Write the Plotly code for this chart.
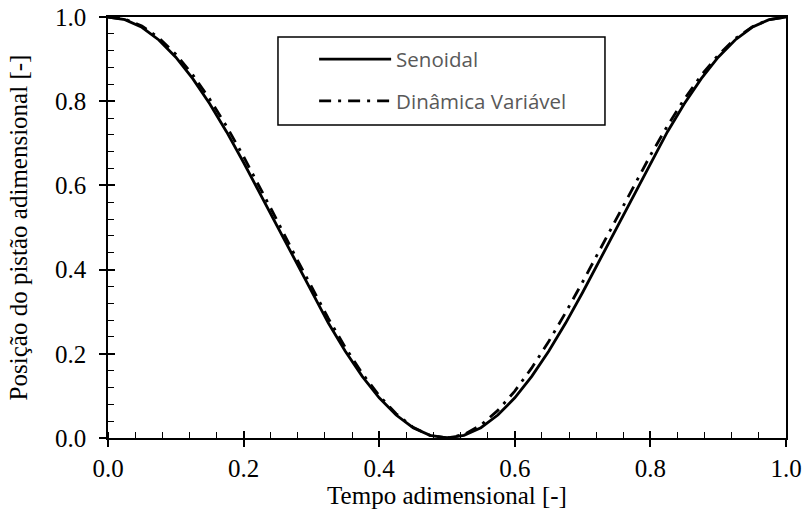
import plotly.graph_objects as go

tempo = [0.0, 0.025, 0.05, 0.075, 0.1, 0.125, 0.15, 0.175, 0.2, 0.225, 0.25,
         0.275, 0.3, 0.325, 0.35, 0.375, 0.4, 0.425, 0.45, 0.475, 0.5,
         0.525, 0.55, 0.575, 0.6, 0.625, 0.65, 0.675, 0.7, 0.725, 0.75,
         0.775, 0.8, 0.825, 0.85, 0.875, 0.9, 0.925, 0.95, 0.975, 1.0]

senoidal = [1.0, 0.9938, 0.9755, 0.9455, 0.9045, 0.8536, 0.7939, 0.7270, 0.6545, 0.5782, 0.5,
            0.4218, 0.3455, 0.2730, 0.2061, 0.1464, 0.0955, 0.0545, 0.0245, 0.0062, 0.0,
            0.0062, 0.0245, 0.0545, 0.0955, 0.1464, 0.2061, 0.2730, 0.3455, 0.4218, 0.5,
            0.5782, 0.6545, 0.7270, 0.7939, 0.8536, 0.9045, 0.9455, 0.9755, 0.9938, 1.0]

dinamica = [1.0, 0.9948, 0.9785, 0.9505, 0.9115, 0.8626, 0.8049, 0.7400, 0.6685, 0.5932, 0.5150,
            0.4358, 0.3585, 0.2840, 0.2151, 0.1535, 0.1005, 0.0575, 0.0255, 0.0062, 0.0,
            0.0082, 0.0305, 0.0655, 0.1115, 0.1665, 0.2291, 0.2980, 0.3705, 0.4458, 0.5220,
            0.5982, 0.6715, 0.7410, 0.8049, 0.8616, 0.9095, 0.9485, 0.9765, 0.9938, 1.0]

tick_vals = [0.0, 0.2, 0.4, 0.6, 0.8, 1.0]
tick_text = ["0.0", "0.2", "0.4", "0.6", "0.8", "1.0"]

serif = "Liberation Serif, Times New Roman, serif"

fig = go.Figure()
fig.add_trace(go.Scatter(x=tempo, y=senoidal, mode="lines", name="Senoidal",
                         legendgroup="a",
                         line=dict(color="black", width=2.8)))
fig.add_trace(go.Scatter(x=tempo, y=dinamica, mode="lines", name="Dinâmica Variável",
                         legendgroup="b",
                         line=dict(color="black", width=2.8, dash="12px,7px,3px,7px")))
# invisible trace on overlay axes (for inside part of crossing major ticks)
fig.add_trace(go.Scatter(x=[None], y=[None], xaxis="x2", yaxis="y2",
                         showlegend=False, hoverinfo="skip"))

axis_common = dict(range=[0, 1], tickvals=tick_vals, ticktext=tick_text,
                   ticks="outside", ticklen=7, tickwidth=1.5, tickcolor="black",
                   showline=True, linecolor="black", linewidth=1.5, mirror=True,
                   showgrid=False, zeroline=False, automargin=False,
                   tickfont=dict(family=serif, size=25, color="black"),
                   minor=dict(ticks="inside", dtick=0.04, ticklen=6, tickwidth=1.2,
                              tickcolor="black", showgrid=False))

fig.update_layout(
    width=805, height=512,
    margin=dict(l=108, r=19, t=17, b=74),
    paper_bgcolor="white", plot_bgcolor="white",
    xaxis=dict(**axis_common,
               title=dict(text="Tempo adimensional [-]", standoff=4,
                          font=dict(family=serif, size=25, color="black"))),
    yaxis=dict(**axis_common, ticklabelstandoff=8,
               title=dict(text="Posição do pistão adimensional [-]", standoff=20,
                          font=dict(family=serif, size=25, color="black"))),
    xaxis2=dict(range=[0, 1], overlaying="x", anchor="y", side="bottom",
                tickvals=tick_vals, ticks="inside", ticklen=7, tickwidth=1.5,
                tickcolor="black", showticklabels=False, showline=False,
                showgrid=False, zeroline=False, automargin=False),
    yaxis2=dict(range=[0, 1], overlaying="y", anchor="x", side="left",
                tickvals=tick_vals, ticks="inside", ticklen=7, tickwidth=1.5,
                tickcolor="black", showticklabels=False, showline=False,
                showgrid=False, zeroline=False, automargin=False),
    showlegend=True,
    legend=dict(x=0.304, y=0.947, xanchor="left", yanchor="top",
                bgcolor="rgba(0,0,0,0)", borderwidth=0,
                itemwidth=72, tracegroupgap=12,
                font=dict(family="Open Sans, sans-serif", size=20.5, color="#595959")),
    shapes=[dict(type="rect", xref="paper", yref="paper",
                 x0=0.2507, x1=0.733, y0=0.7435, y1=0.9525,
                 line=dict(color="black", width=1.5), fillcolor="white", layer="below")],
)

fig.write_html("out.html")
